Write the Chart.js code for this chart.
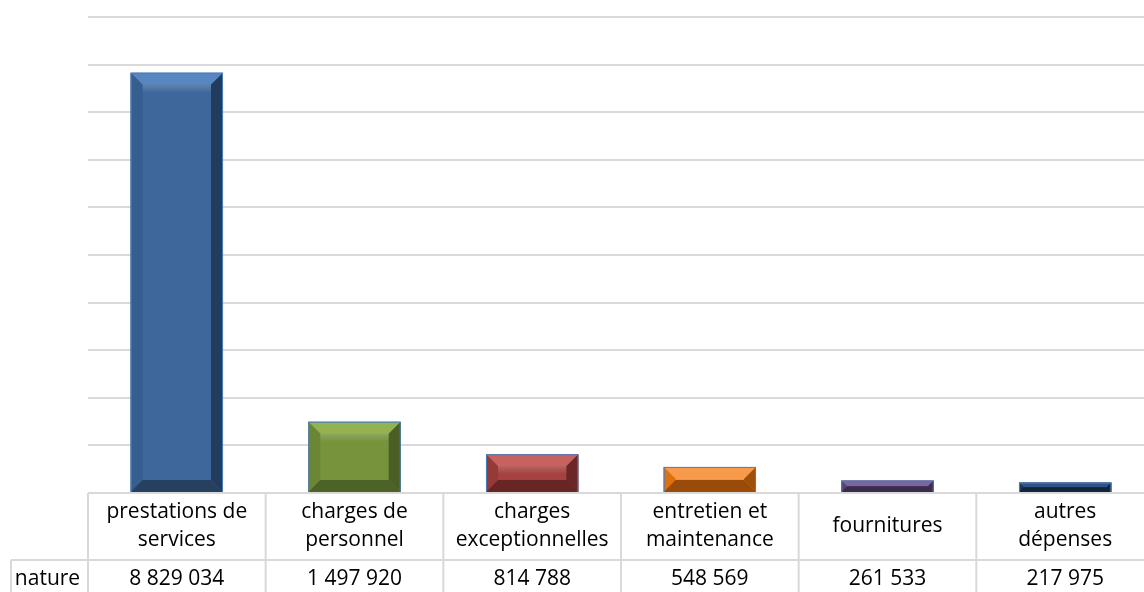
<!DOCTYPE html>
<html lang="fr">
<head>
<meta charset="utf-8">
<title>Dépenses par nature</title>
<script src="https://cdn.jsdelivr.net/npm/chart.js@4/dist/chart.umd.min.js"></script>
<style>
    html, body { margin: 0; padding: 0; background: #ffffff; overflow: hidden; }
    #wrap { width: 1144px; height: 592px; overflow: hidden; }
</style>
</head>
<body>
<div id="wrap"><canvas id="depenses" width="1154" height="592"></canvas></div>
<script>
// Données : dépenses par nature
const categories = [
    ['prestations de', 'services'],
    ['charges de', 'personnel'],
    ['charges', 'exceptionnelles'],
    ['entretien et', 'maintenance'],
    ['fournitures'],
    ['autres', 'dépenses']
];
const montants = [8829034, 1497920, 814788, 548569, 261533, 217975];
const serieLabel = 'nature';
const axeMax = 10000000;
const axePas = 1000000;

// Couleurs des barres : face, biseau haut, gauche, droite, bas
const teintes = [
    { face: '#3e689b', haut: '#5886c0', gauche: '#365f8f', droite: '#223c5e', bas: '#25415f' },
    { face: '#77933c', haut: '#93b251', gauche: '#6b8736', droite: '#4a5e25', bas: '#4d6227' },
    { face: '#a5413e', haut: '#c6625f', gauche: '#963a37', droite: '#6a2725', bas: '#672523' },
    { face: '#f07c17', haut: '#f89a4c', gauche: '#de7010', droite: '#9e4f0a', bas: '#994b09' },
    { face: '#5f4a7b', haut: '#7c659d', gauche: '#564470', droite: '#3b2d4e', bas: '#3a2c4c' },
    { face: '#1f3a60', haut: '#2f5487', gauche: '#1c3558', droite: '#13253e', bas: '#13253d' }
];

const POLICE = '"Open Sans", "DejaVu Sans", sans-serif';
const GRILLE = '#d9d9d9';

// Format français avec espace comme séparateur de milliers
function formatMontant(v) {
    return String(v).replace(/\B(?=(\d{3})+(?!\d))/g, ' ');
}

function trapeze(ctx, pts, couleur) {
    ctx.beginPath();
    ctx.moveTo(pts[0][0], pts[0][1]);
    for (let i = 1; i < pts.length; i++) ctx.lineTo(pts[i][0], pts[i][1]);
    ctx.closePath();
    ctx.fillStyle = couleur;
    ctx.fill();
}

// Effet biseau dessiné par-dessus chaque barre
const biseauPlugin = {
    id: 'biseau',
    afterDatasetsDraw(chart) {
        const ctx = chart.ctx;
        const meta = chart.getDatasetMeta(0);
        ctx.save();
        meta.data.forEach((bar, i) => {
            const t = teintes[i];
            const L = bar.x - bar.width / 2;
            const R = bar.x + bar.width / 2;
            const T = Math.min(bar.y, bar.base);
            const B = Math.max(bar.y, bar.base);
            const b = Math.min(12, (B - T) / 2, (R - L) / 2);
            trapeze(ctx, [[L, T], [R, T], [R - b, T + b], [L + b, T + b]], t.haut);
            trapeze(ctx, [[L, T], [L + b, T + b], [L + b, B - b], [L, B]], t.gauche);
            trapeze(ctx, [[R, T], [R, B], [R - b, B - b], [R - b, T + b]], t.droite);
            trapeze(ctx, [[L, B], [L + b, B - b], [R - b, B - b], [R, B]], t.bas);
            // léger reflet sous le biseau haut
            const g = ctx.createLinearGradient(0, T + b, 0, T + b + 8);
            g.addColorStop(0, 'rgba(255,255,255,0.18)');
            g.addColorStop(1, 'rgba(255,255,255,0)');
            ctx.fillStyle = g;
            ctx.fillRect(L + b, T + b, R - L - 2 * b, Math.min(8, Math.max(0, B - T - 2 * b)));
            // liseré bleu haut et bas
            ctx.strokeStyle = '#4a7ebb';
            ctx.lineWidth = 1;
            ctx.strokeRect(L + 0.5, T + 0.5, R - L - 1, B - T);
        });
        ctx.restore();
    }
};

// Tableau de données sous le graphique
const tableauPlugin = {
    id: 'tableau',
    afterDraw(chart) {
        const ctx = chart.ctx;
        const x = chart.scales.x;
        const area = chart.chartArea;
        const n = categories.length;
        const pas = n > 1 ? x.getPixelForValue(1) - x.getPixelForValue(0) : area.right - area.left;
        const haut = area.bottom;
        const milieu = haut + 67;
        const bas = chart.height + 2;
        const gauche = 11;

        ctx.save();
        ctx.strokeStyle = GRILLE;
        ctx.lineWidth = 2;
        ctx.beginPath();
        ctx.moveTo(area.left, haut); ctx.lineTo(area.right, haut);
        ctx.moveTo(gauche, milieu); ctx.lineTo(area.right, milieu);
        ctx.moveTo(gauche, milieu); ctx.lineTo(gauche, bas);
        for (let i = 0; i <= n; i++) {
            const cx = x.getPixelForValue(0) - pas / 2 + i * pas;
            ctx.moveTo(cx, haut); ctx.lineTo(cx, bas);
        }
        ctx.stroke();

        ctx.fillStyle = '#000000';
        ctx.font = '21px ' + POLICE;
        ctx.textAlign = 'center';
        ctx.textBaseline = 'middle';
        categories.forEach((lignes, i) => {
            const cx = x.getPixelForValue(i);
            const centre = (haut + milieu) / 2;
            const h = 28;
            lignes.forEach((txt, k) => {
                ctx.fillText(txt, cx, centre + (k - (lignes.length - 1) / 2) * h);
            });
            ctx.fillText(formatMontant(montants[i]), cx, (milieu + 592) / 2 + 3);
        });
        ctx.fillText(serieLabel, (gauche + area.left) / 2 - 2, (milieu + 592) / 2 + 3);
        ctx.restore();
    }
};

const ctx = document.getElementById('depenses').getContext('2d');
new Chart(ctx, {
    type: 'bar',
    data: {
        labels: categories,
        datasets: [{
            label: serieLabel,
            data: montants,
            backgroundColor: teintes.map(t => t.face),
            borderWidth: 0,
            barPercentage: 0.52,
            categoryPercentage: 1
        }]
    },
    options: {
        responsive: false,
        animation: false,
        layout: { padding: { left: 88, top: 17, right: 0, bottom: 99 } },
        plugins: {
            legend: { display: false },
            tooltip: { enabled: false }
        },
        scales: {
            x: { display: false },
            y: {
                min: 0,
                max: axeMax,
                ticks: { display: false, stepSize: axePas },
                grid: { color: GRILLE, lineWidth: 2, drawTicks: false },
                border: { display: false },
                afterFit(scale) { scale.width = 0; }
            }
        }
    },
    plugins: [biseauPlugin, tableauPlugin]
});
</script>
</body>
</html>
